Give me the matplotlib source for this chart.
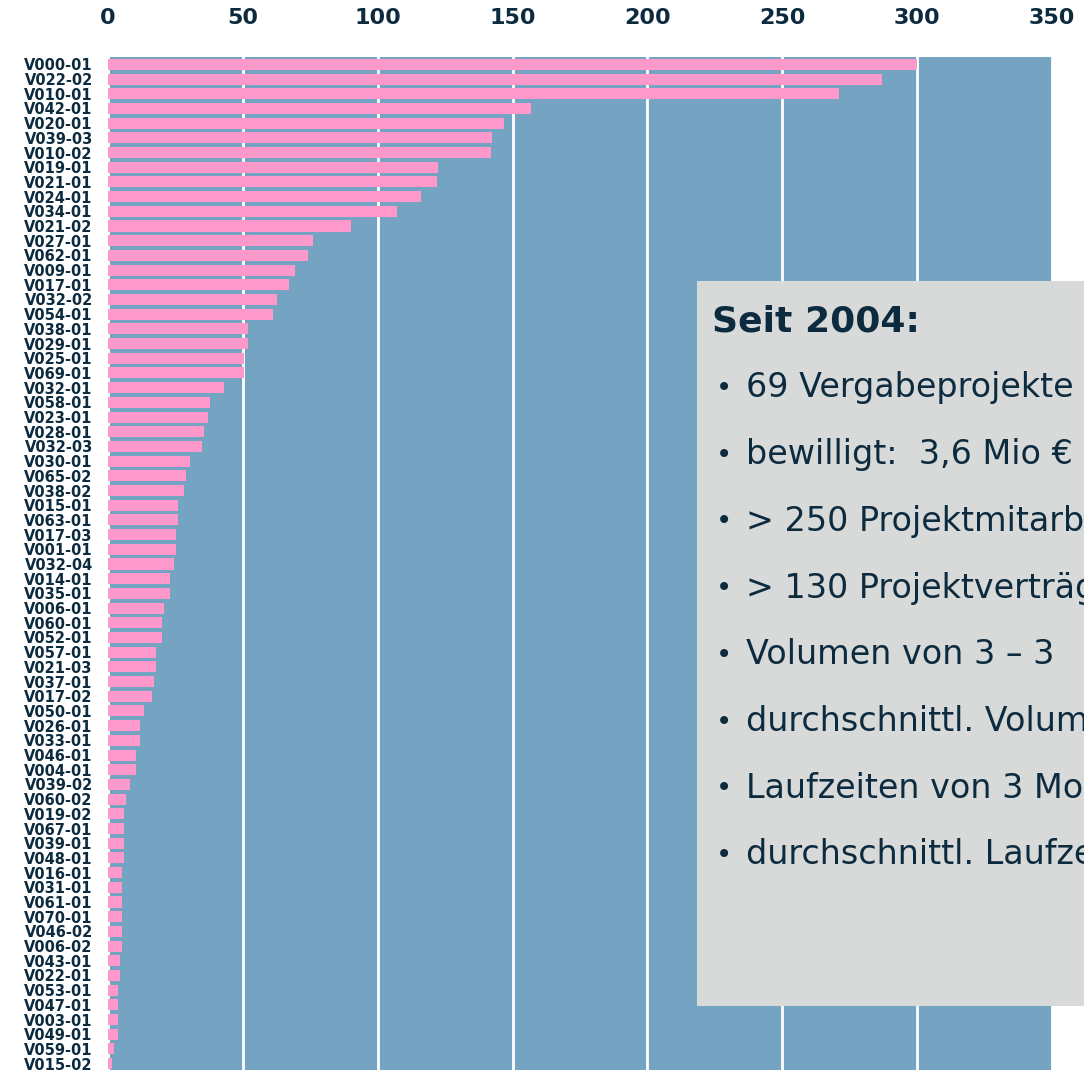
import matplotlib
matplotlib.use("Agg")
import matplotlib.pyplot as plt
from matplotlib.patches import Rectangle

projects = ["V000-01", "V022-02", "V010-01", "V042-01", "V020-01", "V039-03", "V010-02",
            "V019-01", "V021-01", "V024-01", "V034-01", "V021-02", "V027-01", "V062-01",
            "V009-01", "V017-01", "V032-02", "V054-01", "V038-01", "V029-01", "V025-01",
            "V069-01", "V032-01", "V058-01", "V023-01", "V028-01", "V032-03", "V030-01",
            "V065-02", "V038-02", "V015-01", "V063-01", "V017-03", "V001-01", "V032-04",
            "V014-01", "V035-01", "V006-01", "V060-01", "V052-01", "V057-01", "V021-03",
            "V037-01", "V017-02", "V050-01", "V026-01", "V033-01", "V046-01", "V004-01",
            "V039-02", "V060-02", "V019-02", "V067-01", "V039-01", "V048-01", "V016-01",
            "V031-01", "V061-01", "V070-01", "V046-02", "V006-02", "V043-01", "V022-01",
            "V053-01", "V047-01", "V003-01", "V049-01", "V059-01", "V015-02"]
values = [300, 287, 271, 157, 147, 142.5, 142,
          122.5, 122, 116, 107, 90, 76, 74,
          69.5, 67, 62.6, 61, 52, 52, 50.5,
          50.5, 43, 38, 37, 35.5, 34.8, 30.4,
          29, 28, 26, 26, 25.2, 25.2, 24.4,
          23, 23, 20.7, 20, 20, 17.8, 17.8,
          17, 16.3, 13.3, 12, 12, 10.4, 10.4,
          8.1, 6.7, 5.9, 5.9, 5.9, 5.9, 5.2,
          5.2, 5.2, 5.2, 5.2, 5.2, 4.4, 4.4,
          3.7, 3.7, 3.7, 3.7, 2.2, 1.5]
x_ticks = [0, 50, 100, 150, 200, 250, 300, 350]

box_title = "Seit 2004:"
box_lines = ["69 Vergabeprojekte",
             "bewilligt:  3,6 Mio €",
             "> 250 Projektmitarbeiter",
             "> 130 Projektverträge",
             "Volumen von 3 – 3",
             "durchschnittl. Volumen",
             "Laufzeiten von 3 Monaten",
             "durchschnittl. Laufzeit"]

NAVY = "#0d2b3e"
BLUE = "#75a4c3"
PINK = "#ff99cc"
GRAY = "#d8d9d9"

W, H = 1084, 1070
fig = plt.figure(figsize=(W / 100, H / 100), dpi=100)
ax = fig.add_axes([108 / W, -1 / H, (1052 - 108) / W, (1070 - 57 + 1) / H])
ax.set_facecolor(BLUE)
ypos = list(range(len(projects)))
ax.barh(ypos, values, height=0.75, color=PINK, zorder=3)
ax.set_ylim(len(projects) - 0.5, -0.5)
ax.set_xlim(0, 350)
ax.set_xticks(x_ticks)
ax.xaxis.tick_top()
ax.tick_params(axis="x", length=0, pad=21, labelsize=16, labelcolor=NAVY)
for lab in ax.get_xticklabels():
    lab.set_fontweight("bold")
ax.set_yticks(ypos)
ax.set_yticklabels(projects, fontsize=10.5, fontweight="bold", color=NAVY)
ax.tick_params(axis="y", length=0, pad=11)
ax.grid(axis="x", color="white", linewidth=2, zorder=1)
ax.grid(axis="y", visible=False)
for s in ax.spines.values():
    s.set_visible(False)

fig.patches.append(Rectangle((697 / W, (H - 1006) / H), (W - 697 + 50) / W, (1006 - 281) / H,
                             transform=fig.transFigure, facecolor=GRAY, edgecolor="none",
                             zorder=5))
fig.text(712 / W, 1 - 321 / H, box_title, fontsize=26, fontweight="bold", color=NAVY,
         va="center", ha="left", zorder=6)
for i, line in enumerate(box_lines):
    yc = 1 - (388 + i * 66.7) / H
    fig.text(716 / W, yc, "•", fontsize=20, color=NAVY, va="center", ha="left", zorder=6)
    fig.text(746 / W, yc, line, fontsize=24, color=NAVY, va="center", ha="left", zorder=6)

fig.savefig("out.png", dpi=100)
